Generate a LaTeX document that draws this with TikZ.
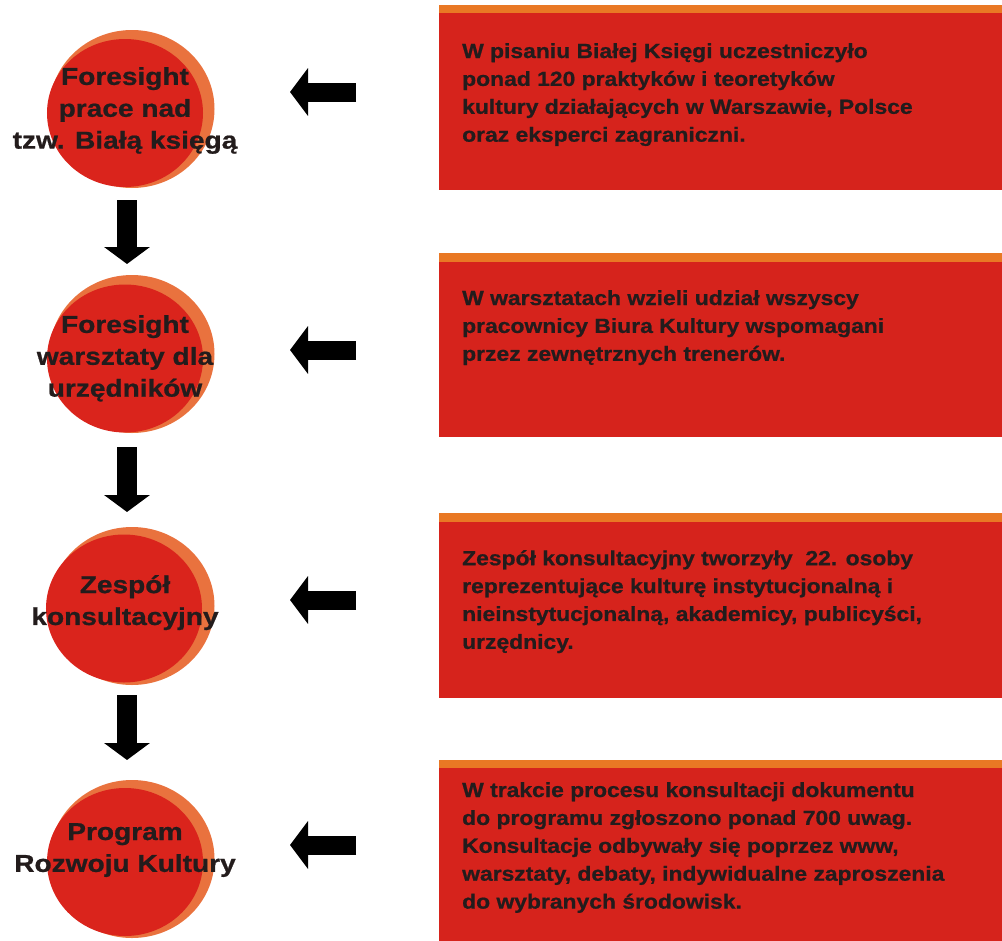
\documentclass[tikz,border=0pt]{standalone}
\usepackage{fontspec}
\setmainfont{Liberation Sans}
\usetikzlibrary{arrows.meta,shapes.geometric}
\definecolor{cred}{RGB}{218,36,28}
\definecolor{cring}{RGB}{233,114,62}
\definecolor{bred}{RGB}{214,35,28}
\definecolor{borange}{RGB}{233,120,36}
\definecolor{ink}{RGB}{35,28,28}
\tikzset{
  ring/.style={ellipse,fill=cring,minimum width=165bp,minimum height=158bp,inner sep=0},
  disc/.style={ellipse,fill=cred,minimum width=156bp,minimum height=148bp,inner sep=0},
  ctext/.style={align=center,anchor=north,inner sep=0,text=ink,
     font=\bfseries\fontsize{24.5}{32}\selectfont\addfontfeatures{FakeStretch=1.15,FakeBold=0.8}},
  btext/.style={align=left,anchor=north west,inner sep=0,text=ink,
     font=\bfseries\fontsize{20.5}{28}\selectfont\addfontfeatures{FakeStretch=1.12,FakeBold=0.8}},
  downarr/.style={line width=20bp,draw=black,-{Triangle[width=45bp,length=17bp]}},
  leftarr/.style={line width=19bp,draw=black,-{Triangle[width=47bp,length=18bp]}},
}
\begin{document}
\begin{tikzpicture}[x=1bp,y=-1bp]
\useasboundingbox (0,0) rectangle (1002,941);
% circles
\node[ring] (o1) at (132,109) {};
\node[disc] (r1) at (125,113) {};
\node[ring] (o2) at (132,354) {};
\node[disc] (r2) at (125,358.5) {};
\node[ring] (o3) at (132,606) {};
\node[disc] (r3) at (124,608.5) {};
\node[ring] (o4) at (132,859) {};
\node[disc] (r4) at (125,862) {};
\node[ctext] (t1) at (125,67) {Foresight\\prace nad\\tzw. Białą księgą};
\node[ctext] (t2) at (125,315) {Foresight\\warsztaty dla\\urzędników};
\node[ctext] (t3) at (125,575) {Zespół\\konsultacyjny};
\node[ctext] (t4) at (125,823) {Program\\Rozwoju Kultury};
% boxes
\fill[borange] (439,5) rectangle (1002,13);
\fill[bred] (439,13) coordinate (b1nw) rectangle (1002,190);
\fill[borange] (439,253) rectangle (1002,262);
\fill[bred] (439,262) coordinate (b2nw) rectangle (1002,437);
\fill[borange] (439,513) rectangle (1002,522);
\fill[bred] (439,522) coordinate (b3nw) rectangle (1002,698);
\fill[borange] (439,760) rectangle (1002,768);
\fill[bred] (439,768) coordinate (b4nw) rectangle (1002,941);
\node[btext] (x1) at (462,43) {W pisaniu Białej Księgi uczestniczyło\\ponad 120 praktyków i teoretyków\\kultury działających w Warszawie, Polsce\\oraz eksperci zagraniczni.};
\node[btext] (x2) at (462,290) {W warsztatach wzieli udział wszyscy\\pracownicy Biura Kultury wspomagani\\przez zewnętrznych trenerów.};
\node[btext] (x3) at (462,550) {Zespół konsultacyjny tworzyły\ \ 22. osoby\\reprezentujące kulturę instytucjonalną i\\nieinstytucjonalną, akademicy, publicyści,\\urzędnicy.};
\node[btext] (x4) at (462,782) {W trakcie procesu konsultacji dokumentu\\do programu zgłoszono ponad 700 uwag.\\Konsultacje odbywały się poprzez www,\\warsztaty, debaty, indywidualne zaproszenia\\do wybranych środowisk.};
% down arrows
\coordinate (d1s) at (127,200); \coordinate (d1e) at (127,264);
\coordinate (d2s) at (127,447); \coordinate (d2e) at (127,512);
\coordinate (d3s) at (127,695); \coordinate (d3e) at (127,760);
\draw[downarr] (d1s) -- (d1e);
\draw[downarr] (d2s) -- (d2e);
\draw[downarr] (d3s) -- (d3e);
% left arrows
\coordinate (a1s) at (356,92);  \coordinate (a1e) at (290,92);
\coordinate (a2s) at (356,350); \coordinate (a2e) at (290,350);
\coordinate (a3s) at (356,600); \coordinate (a3e) at (290,600);
\coordinate (a4s) at (356,845); \coordinate (a4e) at (290,845);
\draw[leftarr] (a1s) -- (a1e);
\draw[leftarr] (a2s) -- (a2e);
\draw[leftarr] (a3s) -- (a3e);
\draw[leftarr] (a4s) -- (a4e);
\end{tikzpicture}
\end{document}
